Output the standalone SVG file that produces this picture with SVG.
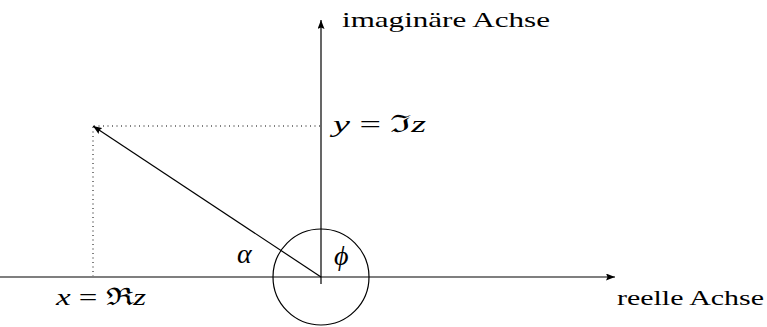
<svg xmlns="http://www.w3.org/2000/svg" width="767" height="327" viewBox="0 0 767 327">
<style>
.ln{stroke:#000;stroke-width:1.2;fill:none}
.dot{stroke:#000;stroke-width:1;stroke-dasharray:1 3.5;fill:none}
text{fill:#000;font-family:Liberation Serif, Times New Roman, DejaVu Serif, serif}
</style>
<defs>
<marker id="ah" viewBox="0 0 9 7" refX="9" refY="3.5" markerWidth="9" markerHeight="7" markerUnits="userSpaceOnUse" orient="auto">
<path d="M0,0 L9,3.5 L0,7 L1.5,3.5 Z" fill="#000"/>
</marker>
</defs>
<rect width="767" height="327" fill="#fff"/>
<g id="connectors">
<line class="ln" x1="0" y1="277" x2="615" y2="277" marker-end="url(#ah)"/>
<line class="ln" x1="321" y1="284" x2="321" y2="20" marker-end="url(#ah)"/>
<line class="ln" x1="321" y1="277" x2="93" y2="126" marker-end="url(#ah)"/>
<line class="dot" x1="94" y1="126" x2="320" y2="126"/>
<line class="dot" x1="93" y1="127" x2="93" y2="276"/>
</g>
<g id="circle">
<circle class="ln" cx="321" cy="277" r="48"/>
</g>
<g id="labels" font-size="22">
<text x="342" y="27" textLength="208" lengthAdjust="spacingAndGlyphs">imaginäre Achse</text>
<text x="617" y="305" textLength="147" lengthAdjust="spacingAndGlyphs">reelle Achse</text>
<text x="333" y="132" font-size="24" textLength="93" lengthAdjust="spacingAndGlyphs"><tspan font-style="italic">y</tspan> = ℑ<tspan font-style="italic">z</tspan></text>
<text x="56" y="305" font-size="24" textLength="90" lengthAdjust="spacingAndGlyphs"><tspan font-style="italic">x</tspan> = ℜ<tspan font-style="italic">z</tspan></text>
<text x="237" y="263" font-size="28" font-style="italic">α</text>
<text x="334" y="265" font-size="28" font-style="italic">ϕ</text>
</g>
</svg>
